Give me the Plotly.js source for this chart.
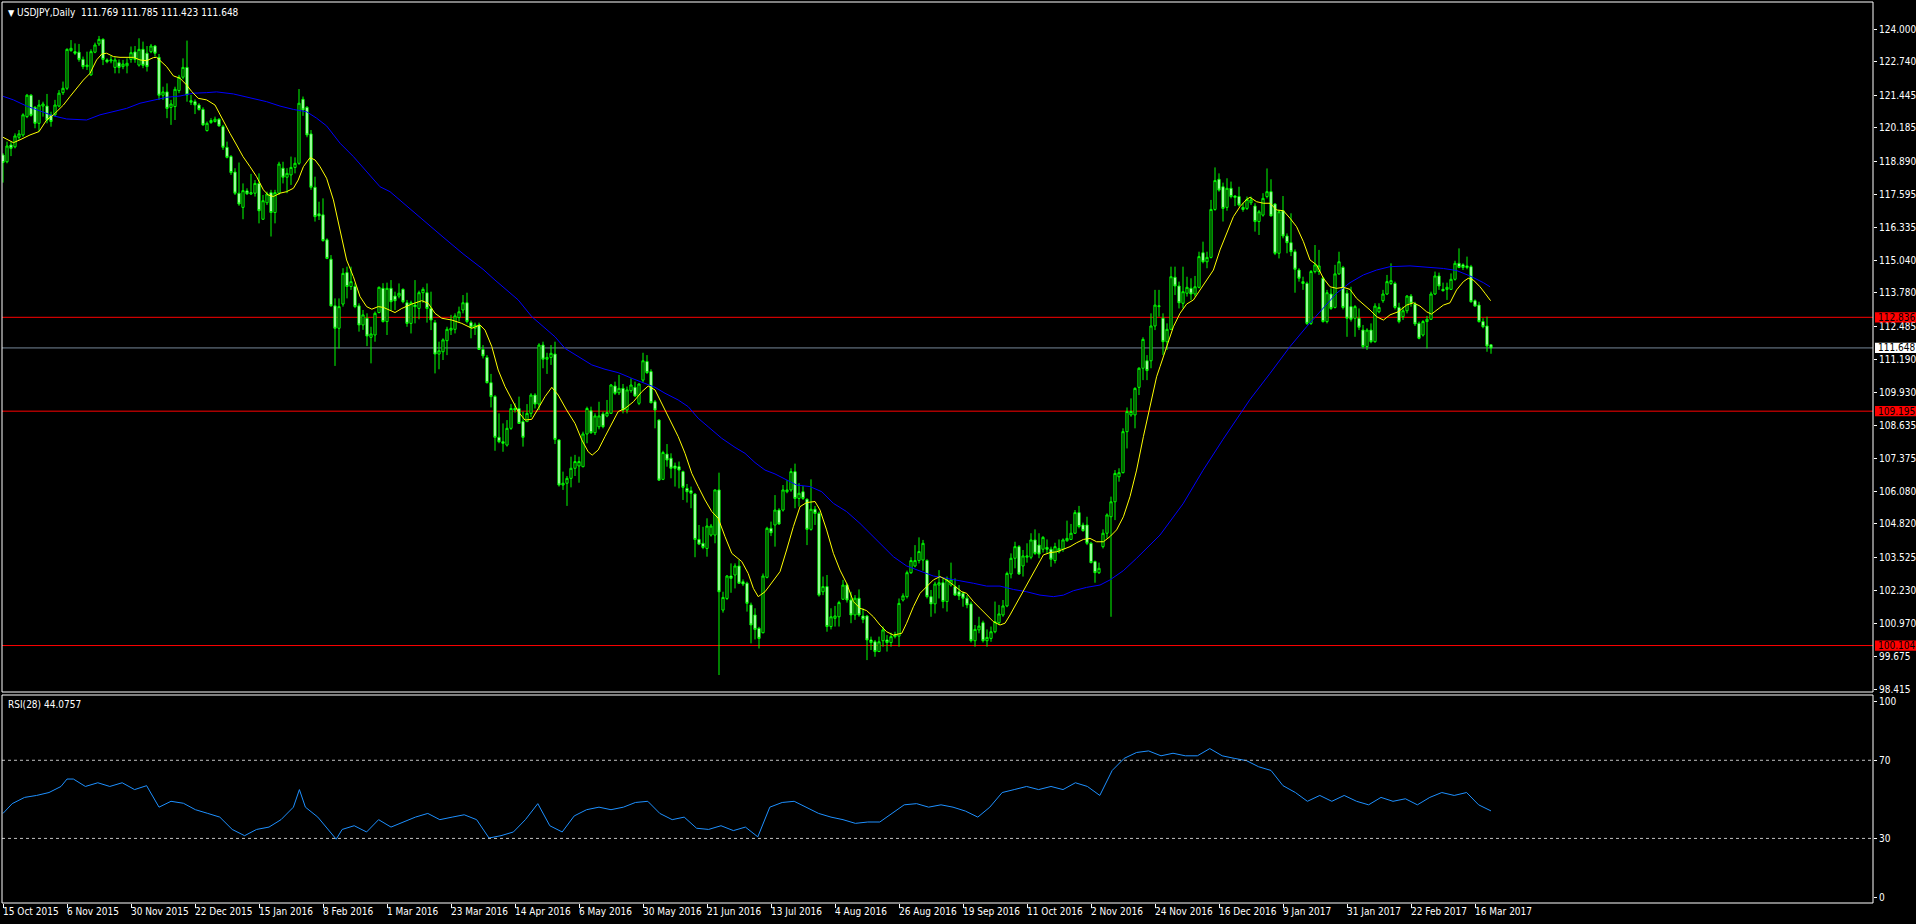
<!DOCTYPE html>
<html><head><meta charset="utf-8">
<script src="https://cdn.plot.ly/plotly-3.0.1.min.js"></script>
<style>html,body{margin:0;padding:0;background:#000;overflow:hidden}#chart{width:1916px;height:924px}</style>
</head><body><div id="chart"></div>
<script>
// ---- data (USDJPY daily, bar 0 = 15 Oct 2015) ----
const openP = [
119.13,118.87,119.52,119.45,119.82,119.91,120.62,121.45,120.98,120.36,
121.03,121.03,120.69,120.69,121.03,121.55,121.72,123.18,123.14,123.12,
122.84,122.56,122.24,123.12,123.44,123.62,122.82,122.78,122.53,122.71,
122.56,122.59,122.84,123.13,122.62,123.23,123.08,123.14,123.36,122.92,
121.45,121.58,120.98,121.01,121.63,122.15,122.53,121.24,121.20,121.07,
120.90,120.08,120.39,120.43,120.52,120.23,119.43,119.07,118.47,117.65,
117.10,117.74,117.62,117.65,118.03,116.64,117.28,117.67,116.90,117.65,
118.62,118.27,118.36,118.65,118.81,121.29,120.98,119.95,117.88,116.85,
116.81,115.84,115.09,113.28,112.41,113.35,114.57,114.03,114.03,113.28,
112.54,112.80,112.06,112.15,113.02,113.96,112.67,113.96,113.66,113.66,
113.92,113.40,112.60,113.31,113.18,113.79,113.79,113.18,112.63,111.41,
111.50,111.93,112.34,112.37,112.83,113.12,113.40,112.63,112.41,112.54,
111.59,111.28,110.30,109.76,108.18,108.01,107.88,108.53,109.30,109.30,
108.79,108.79,109.11,109.82,109.47,111.76,111.21,111.28,111.41,108.08,
106.33,106.40,106.59,106.98,107.07,107.04,108.31,109.21,108.36,108.59,
109.09,109.01,109.11,110.17,109.91,110.08,109.24,109.99,110.12,109.50,
110.40,111.12,110.73,109.56,108.85,106.55,107.53,107.37,107.07,107.04,
106.85,106.20,106.11,105.98,104.22,104.07,103.87,104.39,104.39,106.14,
101.48,101.93,102.80,102.84,103.19,102.58,102.52,101.68,101.29,100.77,
100.60,102.75,104.65,104.78,105.36,105.36,106.07,106.14,106.85,105.81,
106.07,105.78,104.61,105.39,105.23,102.19,102.39,100.84,101.16,101.22,
101.90,102.45,101.87,101.29,101.94,101.25,101.25,100.32,100.25,99.87,
100.29,100.32,100.22,100.45,100.47,101.87,102.00,102.93,103.19,103.40,
103.42,103.40,102.00,101.72,102.45,102.54,101.81,102.45,102.39,102.19,
102.13,101.94,101.72,100.29,100.71,100.99,100.29,100.38,100.64,100.99,
101.29,101.64,102.88,103.49,103.94,103.19,103.53,103.53,104.20,104.00,
103.84,103.91,103.84,103.40,103.74,103.84,104.17,104.22,104.46,105.26,
104.78,104.78,104.07,103.36,102.93,103.94,104.46,105.10,105.68,106.65,
106.81,108.40,109.05,109.05,110.12,110.86,111.15,111.15,112.50,113.25,
112.80,111.89,112.37,114.39,114.05,113.38,113.77,113.96,113.74,114.00,
115.34,114.99,115.16,117.02,118.19,117.90,117.10,117.84,117.54,117.52,
117.10,117.06,117.28,117.15,116.55,116.80,117.52,117.71,117.23,115.32,
116.97,115.99,115.73,115.38,114.67,114.22,114.15,112.60,114.61,114.61,
114.35,112.67,113.74,113.22,114.52,114.77,113.77,113.25,112.80,112.80,
112.34,111.70,112.34,111.89,113.05,113.48,113.74,114.15,114.15,113.22,
112.86,113.09,113.66,113.35,112.60,112.15,112.67,112.76,113.74,114.44,
113.92,113.92,113.92,114.31,114.93,114.87,114.83,114.80,113.48,113.31,
112.67,112.50,111.769];
const highP = [
119.20,119.65,119.65,119.97,120.10,120.75,121.50,121.50,121.03,121.27,
121.20,121.50,120.81,121.27,121.65,121.98,123.27,123.59,123.46,123.44,
122.95,123.14,123.23,123.49,123.75,123.66,122.88,122.97,122.92,122.84,
122.82,122.88,123.34,123.36,123.66,123.53,123.36,123.44,123.40,123.05,
121.78,121.91,121.27,121.78,122.24,122.88,123.57,121.46,121.29,121.14,
120.98,120.43,120.56,120.62,120.56,120.30,119.65,119.13,118.62,118.84,
118.03,117.84,118.40,118.16,118.42,117.58,117.71,117.78,117.78,118.87,
118.87,118.62,119.07,119.04,121.69,121.40,121.03,120.10,118.29,117.32,
117.45,115.90,115.25,113.57,113.57,114.74,114.80,114.80,114.16,113.38,
113.12,112.99,112.47,113.06,114.03,114.16,114.18,114.28,113.83,114.15,
113.96,113.51,113.48,114.28,113.87,114.00,114.15,113.83,112.73,111.89,
112.02,112.47,112.93,112.99,113.25,113.70,113.79,112.71,112.63,112.63,
111.76,111.37,110.64,109.82,109.11,108.72,108.85,109.47,109.50,109.76,
109.18,109.47,109.89,109.89,111.83,111.89,111.46,111.76,111.89,108.10,
106.85,106.68,107.43,107.50,107.43,108.40,109.37,109.37,109.11,109.56,
109.18,109.63,110.25,110.34,110.60,110.25,110.15,110.47,110.34,110.27,
111.46,111.37,110.82,109.63,108.88,107.66,107.92,107.56,107.20,107.24,
106.89,106.37,106.27,106.01,104.78,104.71,105.04,104.82,106.16,106.81,
102.19,102.84,103.29,103.29,103.42,102.67,102.58,101.77,101.55,100.83,
102.90,104.71,104.91,105.94,105.43,106.33,106.52,106.98,107.16,106.40,
106.29,105.81,106.55,105.52,105.30,102.78,102.84,101.55,101.64,101.84,
102.65,102.52,102.19,102.06,102.28,101.55,101.29,100.45,100.32,100.45,
100.84,100.51,100.60,100.64,101.93,102.13,103.01,103.53,104.00,104.30,
104.20,103.45,102.26,102.58,103.03,102.71,102.78,103.32,102.71,102.45,
102.19,102.06,101.81,100.90,101.22,101.07,100.73,100.84,101.81,101.68,
101.87,102.97,103.68,104.13,104.00,103.81,104.07,104.46,104.61,104.46,
104.35,104.22,103.94,104.09,104.22,104.26,104.95,104.82,105.36,105.52,
104.87,105.10,104.13,103.40,103.32,104.61,105.23,105.88,106.91,106.98,
108.53,109.34,109.69,110.12,110.90,112.06,111.37,112.99,113.90,113.90,
112.99,112.60,114.80,114.80,114.22,114.80,114.41,114.35,114.44,115.38,
115.77,115.38,117.39,118.65,118.42,118.06,118.23,118.10,117.58,117.90,
117.28,117.52,117.52,117.26,117.00,117.65,118.61,118.19,117.26,117.00,
117.54,116.09,116.87,115.47,114.74,114.41,114.22,114.67,115.64,115.45,
114.41,113.90,113.96,114.87,115.38,114.83,113.90,114.02,113.31,113.18,
112.54,112.41,112.60,113.38,113.38,113.90,114.48,114.93,114.22,113.40,
113.25,113.70,113.74,113.44,112.67,112.73,112.89,113.83,114.61,114.57,
114.18,114.18,114.54,115.03,115.51,114.93,115.19,114.87,113.53,113.44,
112.80,112.86,111.785];
const lowP = [
118.06,118.81,119.09,119.39,119.72,119.84,120.56,120.62,120.17,120.04,
120.62,120.36,120.23,120.62,120.98,121.46,121.65,123.14,123.01,122.75,
122.46,122.43,122.20,123.08,123.36,122.62,122.69,122.69,122.30,122.30,
122.46,122.30,122.71,122.71,122.56,122.50,122.37,123.08,122.95,121.27,
121.27,120.56,120.30,120.49,121.53,122.07,121.20,121.07,120.72,120.85,
120.26,120.04,120.34,120.39,120.23,119.33,119.00,118.36,117.58,117.16,
116.64,117.58,117.58,117.52,116.48,116.61,117.19,115.97,116.48,117.58,
118.03,117.65,117.97,118.42,118.75,120.65,119.82,117.78,116.55,116.61,
115.77,115.09,113.25,110.95,111.63,113.25,113.57,113.90,113.19,112.28,
112.35,111.72,111.05,111.89,112.99,112.63,112.15,113.09,113.12,113.57,
113.38,112.47,112.21,112.60,112.76,113.40,112.63,112.34,110.66,110.82,
111.18,111.37,112.15,112.21,112.67,112.99,112.60,112.02,112.15,111.57,
111.24,110.27,109.34,107.66,107.95,107.62,107.82,108.47,109.14,108.70,
107.82,108.79,108.96,109.30,109.24,110.86,110.64,110.99,107.92,106.27,
106.14,105.52,106.24,106.68,106.42,107.02,107.95,108.31,108.27,108.49,
108.53,108.96,109.09,109.82,109.82,109.11,109.11,109.91,109.76,109.43,
110.30,110.64,109.50,108.53,106.50,106.52,107.04,106.59,106.27,106.20,
105.75,105.65,105.43,103.53,104.00,103.84,103.55,104.33,104.07,98.96,
101.38,101.87,102.15,102.32,102.49,102.41,101.42,100.19,100.34,99.99,
100.58,102.71,104.35,103.94,104.78,105.30,106.01,106.07,105.43,105.49,
105.75,104.00,104.56,104.78,102.00,102.06,100.64,100.73,100.84,100.84,
101.87,101.77,100.97,101.10,101.22,100.97,99.54,99.93,99.67,99.87,
100.06,99.87,100.06,100.38,100.06,101.81,101.93,102.88,103.14,103.29,
103.01,101.93,101.22,101.35,101.93,101.55,101.42,102.39,102.03,101.87,
101.61,101.55,100.22,100.06,100.58,100.22,100.06,100.25,100.58,100.90,
101.22,101.59,102.71,103.10,102.84,102.78,103.32,103.45,103.62,103.49,
103.71,103.68,103.16,103.29,103.68,103.74,104.13,104.20,104.43,104.65,
104.52,104.00,103.29,102.54,102.88,103.87,104.26,101.22,104.97,106.46,
106.78,107.75,108.98,108.53,109.82,110.40,110.40,110.86,112.34,112.86,
111.37,111.57,112.34,113.70,113.18,113.18,113.64,113.51,113.64,113.96,
114.93,114.74,115.12,116.97,117.71,116.55,116.97,117.45,117.15,117.13,
116.93,117.00,117.19,116.16,116.03,116.74,117.45,116.74,115.25,115.12,
115.90,115.32,115.21,113.79,114.22,113.90,112.54,112.54,114.54,114.48,
112.63,112.60,113.12,113.18,114.48,113.14,112.08,112.67,112.08,112.34,
111.63,111.57,111.83,111.85,112.99,113.40,113.70,114.09,113.14,112.60,
112.73,112.99,113.25,112.50,111.98,112.09,111.63,112.73,113.70,113.90,
113.83,113.51,113.90,114.26,114.74,114.67,114.70,113.40,113.25,112.63,
112.41,111.50,111.423];
const closeP = [
118.84,119.48,119.39,119.87,119.95,120.69,121.45,120.67,120.36,121.07,
121.11,120.49,120.43,121.07,121.53,121.72,123.23,123.27,123.08,122.84,
122.56,122.62,123.14,123.40,123.62,122.84,122.75,122.82,122.82,122.53,
122.66,122.69,123.10,122.84,123.23,122.61,122.56,123.36,123.08,121.45,
121.58,120.94,121.11,121.68,122.15,122.53,121.46,121.18,121.07,120.90,
120.30,120.36,120.47,120.52,120.26,119.43,119.04,118.45,117.65,117.23,
117.75,117.63,117.67,118.03,116.97,117.36,117.62,116.90,117.67,118.78,
118.27,118.42,118.65,118.81,121.14,120.88,119.91,117.88,116.74,116.77,
115.81,115.12,113.28,112.41,113.25,114.54,114.03,114.22,113.25,112.54,
112.93,112.11,112.19,112.99,114.00,112.67,113.96,113.44,113.48,113.77,
113.44,112.60,113.40,113.25,113.79,113.92,113.18,112.73,111.41,111.54,
111.96,112.37,112.41,112.89,113.05,113.40,112.67,112.45,112.54,111.59,
111.34,110.30,109.76,108.18,108.01,107.95,108.53,109.30,109.24,108.72,
108.18,109.11,109.82,109.47,111.76,111.21,111.28,111.44,108.10,106.33,
106.40,106.59,106.98,107.24,107.24,108.31,109.30,108.36,109.01,109.01,
108.59,109.14,110.21,109.89,110.08,109.24,110.02,110.21,109.78,110.25,
111.15,110.69,109.52,109.24,106.52,107.59,107.30,106.98,106.98,106.91,
106.24,106.07,106.01,104.22,104.04,103.91,104.74,104.74,106.14,102.19,
101.97,102.80,102.71,103.19,102.52,102.49,101.74,100.90,100.73,100.38,
102.80,104.65,104.48,105.36,104.82,106.14,106.14,106.85,105.81,106.01,
105.81,104.61,105.39,105.23,102.06,102.39,100.84,101.22,101.25,101.77,
102.45,101.87,101.29,101.94,101.29,101.12,100.32,100.22,99.87,100.25,
100.71,100.22,100.45,100.51,101.74,102.03,102.93,103.40,103.40,103.75,
104.07,102.00,101.72,102.49,102.54,101.81,102.65,102.65,102.06,102.03,
101.94,101.68,100.29,100.73,100.86,100.29,100.42,100.64,101.03,101.33,
101.64,102.90,103.49,103.94,102.88,103.58,103.58,104.20,103.68,103.65,
104.30,103.84,103.45,103.94,103.87,104.20,104.26,104.46,105.26,104.72,
104.56,104.07,103.32,102.93,103.10,104.46,105.17,105.68,106.78,106.81,
108.40,109.18,109.18,110.08,110.86,111.98,110.77,112.50,113.31,113.28,
111.89,112.37,114.41,114.05,113.40,113.83,114.00,113.74,114.02,115.19,
114.99,115.16,117.02,118.14,117.77,117.06,117.84,117.52,117.49,117.19,
117.02,117.41,117.39,116.55,116.93,117.45,117.71,116.77,115.32,116.93,
115.99,115.73,115.38,114.70,114.35,114.15,112.60,114.61,114.87,114.83,
112.67,113.79,113.18,114.52,114.99,113.22,112.80,112.76,113.25,112.45,
111.70,112.34,111.89,113.27,113.22,113.74,114.22,114.26,113.22,112.67,
113.09,113.66,113.38,112.58,112.02,112.67,112.76,113.74,114.44,114.05,
113.87,114.00,114.31,114.93,114.77,114.77,114.77,113.44,113.27,112.67,
112.47,111.72,111.648];

// fast moving average (yellow): bar position / value
const fastMaBar = [0,2.6,4.25,6.75,9,10.9,12.6,15.1,16.75,18.4,20.1,21.75,23.4,24.7,25.9,27.6,29.25,32.6,34.25,35.9,37.6,38.4,39.7,40.9,42.6,44.25,45.9,47.2,48.8,50.9,53,54.7,56.75,58.4,60,61.75,63.4,65.1,66.3,67.6,69.25,70.9,72.6,73.8,75.1,76.75,78,79.25,80.9,82.6,84.25,85.9,87.6,89.25,90.9,92.2,93.8,95.1,98,99.7,102.2,104.7,106.3,108,109.7,112.2,114.7,117.2,119.25,120.5,122.2,123.8,125.5,127.2,128.8,130.5,132.2,133.8,135.5,137.2,138.8,140.9,143,144.7,146.3,147.3,148.8,150.5,152.2,153.8,155.5,157.6,159.7,161.3,163,164.7,166.3,168.8,170.5,172.2,173.8,175.5,177.2,178.8,180.5,182.2,184.7,186.3,187.6,188.8,190.5,191.75,194.25,195.9,197.6,199.25,200.9,203,204.25,205.9,207.6,209.25,210.9,212.6,214.25,215.9,217.6,219.25,220.9,222.6,224.7,225.9,227.6,229.25,230.9,232.6,234.25,235.9,237.6,239.7,240.9,242.6,244.25,245.9,247.6,249.25,250.5,251.75,253.4,255.1,256.75,258.4,260.1,261.75,263.4,265.1,266.75,268.4,270.1,271.75,273.4,275.1,276.75,278.4,280.1,281.75,283.4,285.1,286.75,288.4,289.25,290.9,292.6,294.25,295.9,297.6,299.25,300.9,302.6,304.25,305.9,307.6,309.25,310.9,311.75,313.4,315.1,316.75,318.4,320.1,321.75,323.4,325.1,326.75,328.4,330.1,331.75,333.4,335.1,336.75,338.4,340.1,341.75,343.4,345.1,346.75,348.8,350.9,352.6,354.25,355.9,357.1,358.4,360.1,361.75,363.4,365.1,366.3,367.6,369.25,370.5,371.9];
const fastMaVal = [119.82,119.61,119.72,119.91,120.04,120.49,120.69,121.07,121.40,121.72,122.04,122.30,122.82,123.05,123.08,122.95,122.92,122.92,122.82,122.79,122.91,122.92,122.75,122.56,122.20,122.11,121.85,121.59,121.33,121.27,121.07,120.56,119.97,119.52,119.07,118.68,118.29,117.78,117.58,117.52,117.65,117.71,117.84,118.16,118.68,119.03,118.94,118.68,118.23,117.39,116.22,115.06,114.41,113.64,113.25,113.15,113.25,113.22,113.02,113.18,113.35,113.48,113.38,112.99,112.80,112.73,112.60,112.41,112.54,112.34,111.70,110.79,110.15,109.63,109.18,108.85,108.88,109.30,109.76,110.12,109.82,109.24,108.72,108.08,107.62,107.49,107.69,108.21,108.72,109.18,109.30,109.56,109.95,110.17,110.02,109.50,108.98,108.21,107.56,106.78,106.27,105.75,105.30,105.04,104.33,103.68,103.36,102.90,102.32,102.00,102.19,102.45,102.97,103.81,104.72,105.49,105.65,105.69,105.36,104.59,103.68,103.03,102.52,101.81,101.55,101.46,101.22,100.90,100.64,100.51,100.58,100.97,101.61,102.13,102.39,102.65,102.78,102.65,102.45,102.19,102.13,101.81,101.55,101.29,101.03,100.90,100.97,101.29,101.74,102.26,102.71,103.16,103.62,103.71,103.74,103.84,103.94,104.09,104.22,104.26,104.13,104.13,104.33,104.59,105.10,105.88,106.91,108.21,109.37,110.53,110.92,111.70,112.47,112.99,113.35,113.51,113.90,114.28,114.67,115.45,116.09,116.74,117.13,117.41,117.49,117.32,117.26,117.26,117.00,116.97,116.68,116.35,115.77,115.06,114.87,114.35,114.02,113.96,114.00,113.92,113.57,113.35,113.12,112.86,112.73,112.93,113.05,113.31,113.40,113.27,113.05,112.96,113.12,113.31,113.40,113.90,114.22,114.35,114.28,114.02,113.77,113.48];

// slow moving average (blue)
const slowMaBar = [0,2.6,5.9,9.25,12.6,15.9,20.9,24.25,27.6,30.9,34.25,37.6,40.9,44.25,47.6,50.9,53.4,57.6,62.6,65.9,69.25,72.6,75.9,78.4,80.9,84.25,87.6,90.9,94.25,96.75,105,110,115,120,123,126.3,128.8,132.2,135.5,138,140.5,143.8,147.2,150.5,153.8,157.2,160.5,163,165.5,168.8,171.3,173.8,176.3,179.7,183,185.5,188,190.5,193,195.1,198.4,201.75,204.7,207.6,210.9,214.25,217.6,220.9,222.6,225.9,229.25,232.6,235.9,239.25,242.6,245.9,249.25,252.6,255.9,259.25,262.6,265.1,267.6,270.9,274.25,276.75,280.1,283.4,286.75,289.25,295,300,305,311.75,316.75,321.75,325.9,330.1,333.4,336.75,340.1,343.4,346.75,351.75,355.9,360.1,363.4,366.75,370.1,371.75];
const slowMaVal = [121.41,121.27,121.03,120.85,120.65,120.53,120.49,120.69,120.81,120.94,121.14,121.27,121.37,121.42,121.53,121.55,121.58,121.50,121.33,121.20,121.03,120.90,120.81,120.56,120.26,119.59,119.07,118.49,117.90,117.71,116.60,115.95,115.30,114.70,114.28,113.83,113.51,112.86,112.41,112.08,111.63,111.31,110.99,110.82,110.69,110.47,110.27,110.12,109.89,109.63,109.37,108.92,108.59,108.14,107.79,107.56,107.20,106.91,106.76,106.59,106.33,106.27,106.07,105.62,105.30,104.84,104.33,103.81,103.55,103.19,103.01,102.80,102.71,102.62,102.52,102.41,102.41,102.28,102.19,102.06,102.00,102.06,102.23,102.36,102.45,102.65,103.01,103.49,104.00,104.39,105.60,106.90,108.10,109.65,110.66,111.70,112.47,113.18,113.77,114.18,114.48,114.67,114.80,114.83,114.77,114.73,114.65,114.44,114.18,114.02];

// RSI(28)
const rsiBar = [0,2.3,5.4,8.4,11.5,14.5,16,17.6,20.6,23.7,26.7,29.8,32.9,35.9,39,42,45.1,48.1,51.2,54.2,57.3,60.4,63.4,66.5,69.5,72.6,74.1,75.6,78.7,81.7,83.3,84.8,87.8,90.9,93.9,97,100,103.1,106.2,109.2,112.3,115.3,118.4,121.5,124.5,127.6,130.6,133.7,136.7,139.8,142.8,145.9,149,152,155.1,158.1,161.2,164.2,167.3,170.3,173.4,176.4,179.5,182.6,185.6,188.7,191.7,194.8,197.8,200.9,203.9,207,210,213.1,216.2,219.2,222.3,225.3,228.4,231.4,234.5,237.5,240.6,243.7,246.7,249.8,252.8,255.9,258.9,262,265,268.1,271.1,274.2,277.3,280.3,283.4,286.4,289.5,292.5,295.6,298.6,301.7,304.8,307.8,310.9,313.9,317,320,323.1,326.1,329.2,332.2,335.3,338.4,341.4,344.5,347.5,350.6,353.6,356.7,359.7,362.8,365.9,368.9,372];
const rsiVal = [42.8,47.8,51,52,53.5,56.6,60.4,60.4,56.6,58.5,56.6,58.5,55,57,46,49,48,44.7,42.8,40.9,34.6,31.4,34.6,35.8,39.6,46,55,46,40.9,33.3,29.6,34.6,36.5,33.3,39.6,35.8,38.4,40.9,42.8,39.6,40.9,42.1,39.6,30.2,31.4,33.3,39.6,47.8,36.5,33.3,41.5,44.7,46,44.7,46,48.4,49,42.8,39.6,40.9,35.2,34.6,36.5,34,35.8,30.8,46,48.4,49,46,42.8,40.9,39.6,37.7,38.4,38.4,42.8,47.2,47.8,46,47.2,46,44,40.9,46,53.5,55,56.6,55,56.6,55,58.5,56.6,52,64.8,71,74,74.8,72.3,73.6,72.3,72.3,76,72.3,71,69.8,66.7,64.8,57,53.5,49,52,49,52,49,47.2,51,49,50.3,47.2,51,53.5,52,53.5,47.2,44.08];
const rsiLastValue = 44.0757;

// axis ticks and labels
const priceTicks = [124.000,122.740,121.445,120.185,118.890,117.595,116.335,115.040,113.780,112.485,111.190,109.930,108.635,107.375,106.080,104.820,103.525,102.230,100.970,99.675,98.415];
const rsiTicks = [100,70,30,0];
const rsiLevels = [70,30];
const dateBars = [0,16,32,48,64,80,96,112,128,144,160,176,192,208,224,240,256,272,288,304,320,336,352,368];
const dateLabels = ['15 Oct 2015','6 Nov 2015','30 Nov 2015','22 Dec 2015','15 Jan 2016','8 Feb 2016','1 Mar 2016','23 Mar 2016','14 Apr 2016','6 May 2016','30 May 2016','21 Jun 2016','13 Jul 2016','4 Aug 2016','26 Aug 2016','19 Sep 2016','11 Oct 2016','2 Nov 2016','24 Nov 2016','16 Dec 2016','9 Jan 2017','31 Jan 2017','22 Feb 2017','16 Mar 2017'];
const levelLines = [112.836,109.195,100.104];
const symbolName = 'USDJPY,Daily';
const rsiName = 'RSI(28)';

// ---- drawing ----
const FONT = "'DejaVu Sans Condensed','DejaVu Sans',sans-serif";
const FS = 10;
const W = 1916, H = 924;
const M = {l:2, r:43, t:2, b:21};
const plotW = W - M.l - M.r;
const pxPerBar = 4;
const plotH = H - M.t - M.b;
const mainBottomPx = 692, rsiTopPx = 695;
const mainDom = [(H - M.b - mainBottomPx)/plotH, 1];
const rsiDom = [0, (H - M.b - rsiTopPx)/plotH];
const bars = openP.map((_, i) => i);
const last = openP.length - 1;
const labelHalf = 0.2;

const traces = [
  {type:'candlestick', x:bars, open:openP, high:highP, low:lowP, close:closeP,
   xaxis:'x', yaxis:'y', whiskerwidth:0, hoverinfo:'skip', showlegend:false,
   increasing:{line:{color:'#00ff00', width:1}, fillcolor:'#000000'},
   decreasing:{line:{color:'#00ff00', width:1}, fillcolor:'#ffffff'}},
  {type:'scatter', mode:'lines', x:slowMaBar, y:slowMaVal, xaxis:'x', yaxis:'y',
   line:{color:'#0000ff', width:1}, hoverinfo:'skip', showlegend:false},
  {type:'scatter', mode:'lines', x:fastMaBar, y:fastMaVal, xaxis:'x', yaxis:'y',
   line:{color:'#ffff00', width:1}, hoverinfo:'skip', showlegend:false},
  {type:'scatter', mode:'lines', x:rsiBar, y:rsiVal, xaxis:'x', yaxis:'y2',
   line:{color:'#1e90ff', width:1}, hoverinfo:'skip', showlegend:false}
];

const shapes = [];
levelLines.forEach(v => shapes.push({type:'line', layer:'below', xref:'paper', x0:0, x1:1, yref:'y', y0:v, y1:v, line:{color:'#ff0000', width:1}}));
shapes.push({type:'line', layer:'below', xref:'paper', x0:0, x1:1, yref:'y', y0:closeP[last], y1:closeP[last], line:{color:'#778899', width:1}});
rsiLevels.forEach(v => shapes.push({type:'line', xref:'paper', x0:0, x1:1, yref:'y2', y0:v, y1:v, line:{color:'#c0c0c0', width:1, dash:'3px,3px'}}));
shapes.push({type:'rect', xref:'paper', yref:'paper', x0:0, x1:1, y0:mainDom[0], y1:1, line:{color:'#ffffff', width:1}});
shapes.push({type:'rect', xref:'paper', yref:'paper', x0:0, x1:1, y0:0, y1:rsiDom[1], line:{color:'#ffffff', width:1}});
const bx0 = 1 + 2/plotW, bx1 = 1 + (M.r)/plotW;
levelLines.forEach(v => shapes.push({type:'rect', xref:'paper', x0:bx0, x1:bx1, yref:'y', y0:v-labelHalf, y1:v+labelHalf, fillcolor:'#ff0000', line:{width:0}}));
shapes.push({type:'rect', xref:'paper', x0:bx0, x1:bx1, yref:'y', y0:closeP[last]-labelHalf, y1:closeP[last]+labelHalf, fillcolor:'#ffffff', line:{width:0}});

const annotations = [];
annotations.push({xref:'paper', yref:'paper', x:0, y:1, xanchor:'left', yanchor:'top', xshift:4, yshift:-3, showarrow:false,
  text:'<span style="font-size:9px">\u25BC</span> ' + symbolName + '  ' + [openP[last], highP[last], lowP[last], closeP[last]].map(v => v.toFixed(3)).join(' '),
  font:{family:FONT, size:FS, color:'#ffffff'}});
annotations.push({xref:'paper', yref:'paper', x:0, y:rsiDom[1], xanchor:'left', yanchor:'top', xshift:4, yshift:-2, showarrow:false,
  text:rsiName + ' ' + rsiLastValue.toFixed(4), font:{family:FONT, size:FS, color:'#ffffff'}});
dateBars.forEach((b, k) => annotations.push({xref:'x', yref:'paper', x:b, y:0, xanchor:'left', yanchor:'top', xshift:-2, yshift:-1, showarrow:false,
  text:dateLabels[k], font:{family:FONT, size:FS, color:'#ffffff'}}));
levelLines.forEach(v => annotations.push({xref:'paper', yref:'y', x:1, y:v, xanchor:'left', yanchor:'middle', xshift:3, showarrow:false,
  text:v.toFixed(3), font:{family:FONT, size:FS, color:'#000000'}}));
annotations.push({xref:'paper', yref:'y', x:1, y:closeP[last], xanchor:'left', yanchor:'middle', xshift:3, showarrow:false,
  text:closeP[last].toFixed(3), font:{family:FONT, size:FS, color:'#000000'}});

const axFont = {family:FONT, size:FS, color:'#ffffff'};
const layout = {
  width:W, height:H, margin:M, paper_bgcolor:'#000000', plot_bgcolor:'#000000',
  showlegend:false, dragmode:false, boxgap:0.22,
  xaxis:{domain:[0,1], anchor:'y2', range:[-1/pxPerBar, -1/pxPerBar + plotW/pxPerBar], showgrid:false, zeroline:false, showline:false,
    tickmode:'array', tickvals:dateBars, ticks:'outside', ticklen:4, tickcolor:'#ffffff', showticklabels:false,
    rangeslider:{visible:false}, fixedrange:true},
  yaxis:{domain:mainDom, anchor:'x', side:'right', range:[124 - (mainBottomPx - 29.5)/25.78, 124 + (29.5 - M.t)/25.78],
    showgrid:false, zeroline:false, showline:false, tickmode:'array', tickvals:priceTicks, ticktext:priceTicks.map(v => v.toFixed(3)),
    ticks:'outside', ticklen:3, tickcolor:'#ffffff', tickfont:axFont, fixedrange:true},
  yaxis2:{domain:rsiDom, anchor:'x', side:'right', range:[-3.07, 103.43], showgrid:false, zeroline:false, showline:false,
    tickmode:'array', tickvals:rsiTicks, ticktext:rsiTicks.map(String), ticks:'outside', ticklen:3, tickcolor:'#ffffff', tickfont:axFont, fixedrange:true},
  shapes:shapes, annotations:annotations
};
Plotly.newPlot('chart', traces, layout, {staticPlot:true, displayModeBar:false});
</script>
</body></html>
